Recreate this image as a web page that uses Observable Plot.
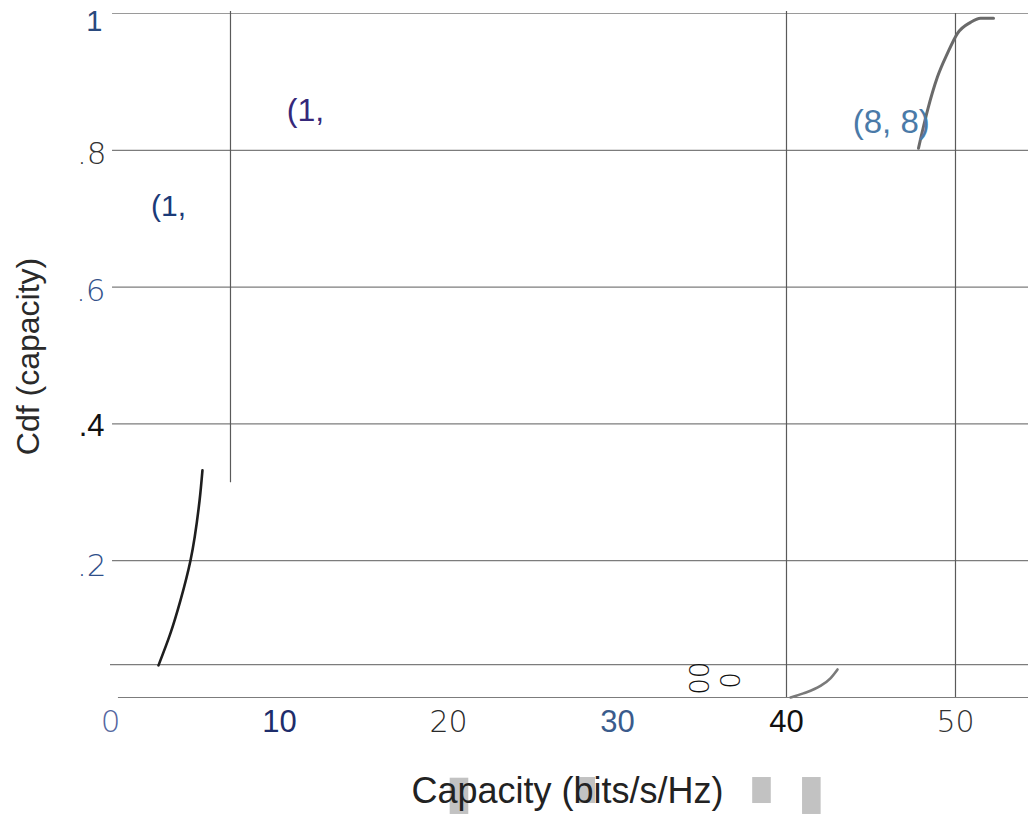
<!DOCTYPE html>
<html>
<head>
<meta charset="utf-8">
<script src="https://cdn.jsdelivr.net/npm/d3@7"></script>
<script src="https://cdn.jsdelivr.net/npm/@observablehq/plot@0.6"></script>
<style>
  html, body { margin: 0; padding: 0; background: #fff; }
  #chart svg { display: block; }
</style>
</head>
<body>
<div id="chart"></div>
<script>
// ---------- data ----------
const xTicks = [0, 10, 20, 30, 40, 50];
const xTickLabels = ["0", "10", "20", "30", "40", "50"];
const yTicks = [1, 0.8, 0.6, 0.4, 0.2];
const yTickLabels = ["1", ".8", ".6", ".4", ".2"];

// horizontal grid values and their starting x
const gridY = [1, 0.8, 0.6, 0.4, 0.2, 0.048, 0];
const gridYStart = [0.12, 0.12, 0.12, 0.12, 0.12, 0, 0.47];

// vertical rules: x value, bottom and top cdf value
const vRuleX = [7.1, 40, 50];
const vRuleBottom = [0.314, 0, 0];
const vRuleTop = [1.003, 1.003, 1];

// curve segments (capacity, cdf)
const curveAX = [2.84, 3.55, 4.14, 4.73, 5.27, 5.44];
const curveAY = [0.047, 0.094, 0.142, 0.200, 0.288, 0.332];
const curveBX = [47.81, 48.34, 48.93, 49.53, 50.12, 50.89, 51.48, 52.25];
const curveBY = [0.803, 0.858, 0.907, 0.942, 0.971, 0.987, 0.993, 0.993];
const curveCX = [40.24, 41.0, 42.01, 42.6, 43.02];
const curveCY = [0.0, 0.006, 0.017, 0.028, 0.041];

// annotation labels
const noteText = ["(1,", "(1,", "(8, 8)"];
const noteX = [11.54, 3.43, 46.2];
const noteY = [0.858, 0.718, 0.841];

// small marker glyphs
const markText = ["00", "0"];
const markX = [34.73, 36.57];
const markY = [0.028, 0.025];

// grey blocks under the x title (capacity x1,x2 ; cdf y1,y2)
const blockX1 = [20.1, 27.6, 38.0, 40.95];
const blockX2 = [21.2, 28.7, 39.1, 42.05];
const blockY1 = [-0.118, -0.117, -0.117, -0.117];
const blockY2 = [-0.171, -0.155, -0.155, -0.171];

const xTitle = "Capacity (bits/s/Hz)";
const yTitle = "Cdf (capacity)";

// ---------- styles ----------
const SANS = "'Liberation Sans', Arial, sans-serif";
const THIN = "'DejaVu Sans', sans-serif";
const xTickStyle = {
  "0":  {fill: "#5566a0", fontFamily: THIN, fontSize: 31, fontWeight: 200},
  "10": {fill: "#1e2d6b", fontFamily: SANS, fontSize: 31, fontWeight: 400},
  "20": {fill: "#2a2a2a", fontFamily: THIN, fontSize: 30, fontWeight: 200},
  "30": {fill: "#3a5b8c", fontFamily: SANS, fontSize: 31, fontWeight: 400},
  "40": {fill: "#111111", fontFamily: SANS, fontSize: 31, fontWeight: 400},
  "50": {fill: "#333333", fontFamily: THIN, fontSize: 30, fontWeight: 200}
};
const yTickStyle = {
  "1":  {fill: "#2a4a7e", fontFamily: SANS, fontSize: 29, fontWeight: 400, dy: 8, dx: -8},
  ".8": {fill: "#333333", fontFamily: THIN, fontSize: 31, fontWeight: 200, dy: 4, dx: -4},
  ".6": {fill: "#34528a", fontFamily: THIN, fontSize: 31, fontWeight: 200, dy: 4, dx: -5},
  ".4": {fill: "#111111", fontFamily: SANS, fontSize: 31, fontWeight: 400, dy: 2, dx: -6},
  ".2": {fill: "#2f4f8a", fontFamily: THIN, fontSize: 31, fontWeight: 200, dy: 5, dx: -4}
};
const noteColor = ["#35287a", "#1b3a78", "#4a7aa8"];
const noteSize = [32, 30, 33];

// ---------- build ----------
const idx = n => d3.range(n);
const curve = (xs, ys) => xs.map((x, i) => ({x, y: ys[i]}));

const marks = [];

// grey blocks (behind title)
marks.push(Plot.rect(idx(blockX1.length), {
  x1: i => blockX1[i], x2: i => blockX2[i], y1: i => blockY1[i], y2: i => blockY2[i],
  fill: "#c2c2c2"
}));

// horizontal grid
marks.push(Plot.ruleY(idx(gridY.length), {
  y: i => gridY[i], x1: i => gridYStart[i], x2: 54.32,
  stroke: i => (gridY[i] === 1 ? "#9a9a9a" : "#7c7c7c"), strokeWidth: 1.2
}));

// vertical rules
marks.push(Plot.ruleX(idx(vRuleX.length), {
  x: i => vRuleX[i], y1: i => vRuleBottom[i], y2: i => vRuleTop[i],
  stroke: "#5a5a5a", strokeWidth: 1.2
}));

// curves
marks.push(Plot.line(curve(curveAX, curveAY), {x: "x", y: "y", curve: "monotone-y", stroke: "#1e1e1e", strokeWidth: 2.6}));
marks.push(Plot.line(curve(curveBX, curveBY), {x: "x", y: "y", curve: "monotone-x", stroke: "#6a6a6a", strokeWidth: 3}));
marks.push(Plot.line(curve(curveCX, curveCY), {x: "x", y: "y", curve: "monotone-x", stroke: "#7a7a7a", strokeWidth: 2.6}));

// annotations
noteText.forEach((t, i) => {
  marks.push(Plot.text([i], {
    x: d => noteX[d], y: d => noteY[d], text: d => noteText[d],
    fill: noteColor[i], fontSize: noteSize[i], fontFamily: SANS
  }));
});

// marker glyphs
marks.push(Plot.text(idx(markText.length), {
  x: i => markX[i], y: i => markY[i], text: i => markText[i],
  rotate: 90, fill: "#111", fontSize: 26, fontFamily: THIN, fontWeight: 200
}));

// x tick labels
xTicks.forEach((t, i) => {
  const s = xTickStyle[xTickLabels[i]];
  marks.push(Plot.text([i], {
    x: d => xTicks[d], y: 0, text: d => xTickLabels[d], dy: 25,
    textAnchor: "middle", ...s
  }));
});

// y tick labels
yTicks.forEach((t, i) => {
  const s = yTickStyle[yTickLabels[i]];
  marks.push(Plot.text([i], {
    x: 0, y: d => yTicks[d], text: d => yTickLabels[d],
    textAnchor: "end", ...s
  }));
});

// titles
marks.push(Plot.text([xTitle], {
  frameAnchor: "bottom", text: d => d, dy: 94, dx: -2, lineAnchor: "middle", textAnchor: "middle",
  fill: "#222", fontSize: 36, fontFamily: SANS
}));
marks.push(Plot.text([yTitle], {
  frameAnchor: "left", text: d => d, dx: -82, dy: 1, rotate: -90,
  textAnchor: "middle", lineAnchor: "middle",
  fill: "#2a2a2a", fontSize: 32, fontFamily: SANS
}));

const chart = Plot.plot({
  width: 1028,
  height: 814,
  marginLeft: 110,
  marginRight: 0,
  marginTop: 13,
  marginBottom: 117,
  x: {domain: [0, 54.32], axis: null},
  y: {domain: [0, 1], axis: null},
  style: {background: "#fff", overflow: "visible"},
  marks
});
document.getElementById("chart").append(chart);
</script>
</body>
</html>
